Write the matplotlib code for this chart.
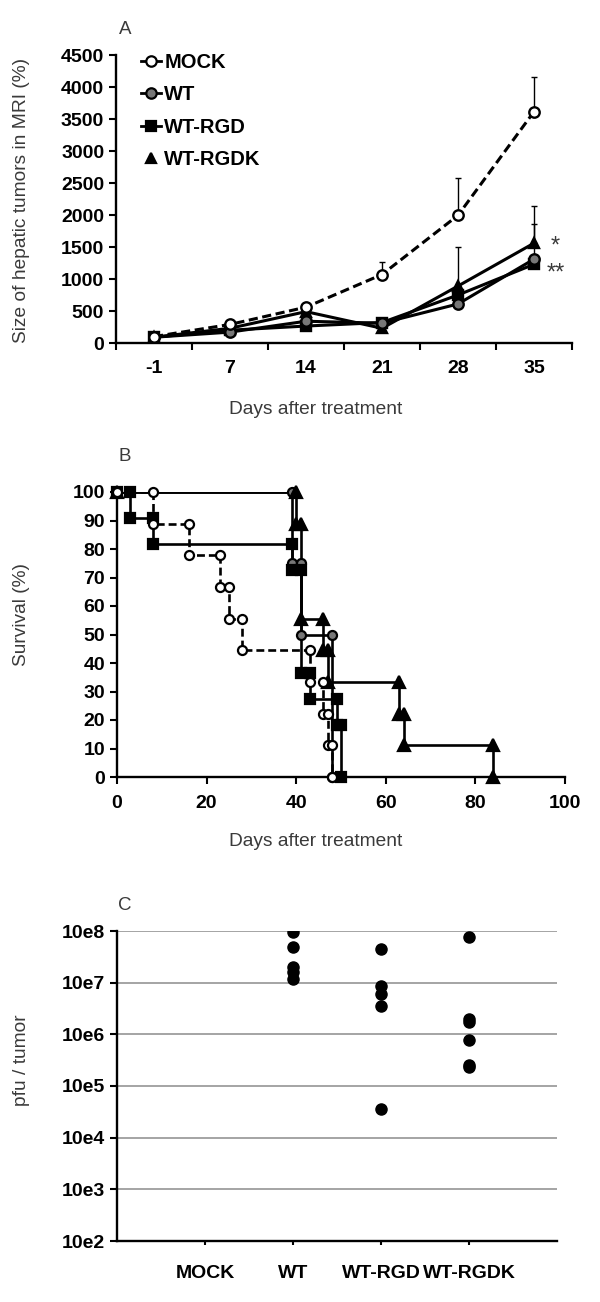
import numpy as np
import matplotlib
matplotlib.use("Agg")
import matplotlib.pyplot as plt
from matplotlib.lines import Line2D

plt.rcParams['font.family'] = ['Liberation Sans', 'DejaVu Sans']

# ---- panel A: tumor size (%) ----
days = ['-1', '7', '14', '21', '28', '35']
mock_size = [100, 290, 560, 1070, 1995, 3615]
mock_err = [0, 0, 40, 190, 590, 545]
wt_size = [90, 170, 340, 310, 610, 1310]
wt_err = [0, 0, 0, 0, 0, 545]
rgd_size = [90, 200, 265, 320, 750, 1230]
rgd_err = [0, 0, 0, 0, 0, 0]
rgdk_size = [90, 230, 490, 230, 890, 1560]
rgdk_err = [0, 0, 0, 0, 605, 575]

# ---- panel B: survival (Kaplan-Meier steps) ----
mock_t = [0, 8, 16, 23, 25, 28, 43, 46, 47, 48]
mock_s = [100, 88.9, 77.8, 66.7, 55.6, 44.4, 33.3, 22.2, 11.1, 0]
wt_t = [0, 39, 41, 48]
wt_s = [100, 75, 50, 0]
rgd_t = [0, 3, 8, 39, 41, 43, 49, 50]
rgd_s = [100, 90.9, 81.8, 72.7, 36.4, 27.3, 18.2, 0]
rgdk_t = [0, 40, 41, 46, 47, 63, 64, 84]
rgdk_s = [100, 88.9, 55.6, 44.4, 33.3, 22.2, 11.1, 0]

# ---- panel C: virus titres ----
groups = ['MOCK', 'WT', 'WT-RGD', 'WT-RGDK']
pfu_mock = []
pfu_wt = [9.4e7, 5.0e7, 2.05e7, 1.6e7, 1.2e7]
pfu_rgd = [4.4e7, 8.8e6, 6.0e6, 3.6e6, 3.6e4]
pfu_rgdk = [7.6e7, 2.0e6, 1.7e6, 7.9e5, 2.6e5, 2.3e5]

W, H = 600, 1302
fig = plt.figure(figsize=(W / 100, H / 100), dpi=100)


def rect(l, r, t, b):
    return [l / W, 1 - b / H, (r - l) / W, (b - t) / H]


def px(x, y):
    return x / W, 1 - y / H


TICK_FS = 14
tick_font = dict(fontsize=TICK_FS, fontweight='bold')
label_col = '#3a3a3a'
LABEL_FS = 13.8


def style(ax):
    for s in ['top', 'right']:
        ax.spines[s].set_visible(False)
    for s in ['left', 'bottom']:
        ax.spines[s].set_linewidth(1.7)
    ax.tick_params(width=1.5, length=5, direction='out')
    for lab in ax.get_xticklabels() + ax.get_yticklabels():
        lab.set_fontsize(TICK_FS)
        lab.set_fontweight('bold')


# panel A
axA = fig.add_axes(rect(116, 572, 55, 343))
x = np.arange(len(days))
series = [
    (mock_size, mock_err, 'o', 'white', '--', 'MOCK'),
    (wt_size, wt_err, 'o', '#777777', '-', 'WT'),
    (rgd_size, rgd_err, 's', 'black', '-', 'WT-RGD'),
    (rgdk_size, rgdk_err, '^', 'black', '-', 'WT-RGDK'),
]
for vals, err, m, fc, ls, name in reversed(series):
    axA.errorbar(x, vals, yerr=[np.zeros(len(err)), err], fmt='none',
                 ecolor='black', elinewidth=1, capsize=2, capthick=1)
    axA.plot(x, vals, linestyle=ls, color='black', lw=2.2, marker=m,
             markersize=7.5 if m != 's' else 7, markerfacecolor=fc,
             markeredgecolor='black', markeredgewidth=1.7,
             dashes=(3, 1.5) if ls == '--' else (None, None))
axA.set_xlim(-0.5, len(days) - 0.5)
axA.set_ylim(0, 4500)
axA.set_yticks(np.arange(0, 4501, 500))
axA.set_xticks(np.arange(-0.5, len(days), 1.0))
axA.set_xticklabels([])
axA.set_xticks(x, minor=True)
axA.set_xticklabels(days, minor=True, **tick_font)
axA.tick_params(axis='x', which='minor', length=0, pad=12)
style(axA)

handles = []
for vals, err, m, fc, ls, name in series:
    handles.append(Line2D([], [], color='black', lw=2 if name != 'WT-RGDK' else 0,
                          linestyle='-', marker=m, markersize=7.5,
                          markerfacecolor=fc, markeredgecolor='black',
                          markeredgewidth=1.6, label=name))
fig.legend(handles=handles, loc='upper left', bbox_to_anchor=px(141, 53),
           frameon=False, handlelength=1.0, handletextpad=0.15,
           labelspacing=0.66, borderpad=0, borderaxespad=0,
           prop=dict(size=14.5, weight='bold'), numpoints=1)

fig.text(*px(555, 247), '*', ha='center', va='center', fontsize=17, color=label_col)
fig.text(*px(556, 274), '**', ha='center', va='center', fontsize=17, color=label_col)

# panel B
axB = fig.add_axes(rect(117, 565, 492, 777))
curves = [
    (wt_t, wt_s, 'o', '#777777', '-', 6.5),
    (rgdk_t, rgdk_s, '^', 'black', '-', 8),
    (rgd_t, rgd_s, 's', 'black', '-', 6.5),
    (mock_t, mock_s, 'o', 'white', '--', 6.5),
]
for t, s, m, fc, ls, ms in curves:
    axB.step(t, s, where='post', color='black', lw=1.9, linestyle=ls,
             dashes=(3, 1.5) if ls == '--' else (None, None), zorder=2)
    # markers at top and bottom of every drop
    mx = [t[0]]
    my = [s[0]]
    for i in range(1, len(t)):
        mx += [t[i], t[i]]
        my += [s[i - 1], s[i]]
    axB.plot(mx, my, linestyle='none', marker=m, markersize=ms,
             markerfacecolor=fc, markeredgecolor='black', markeredgewidth=1.6,
             zorder=3, clip_on=False)
axB.set_xlim(0, 100)
axB.set_ylim(0, 100)
axB.set_xticks(np.arange(0, 101, 20))
axB.set_yticks(np.arange(0, 101, 10))
style(axB)
axB.tick_params(axis='x', pad=8)

# panel C
axC = fig.add_axes(rect(117, 557, 931, 1241))
for i, vals in enumerate([pfu_mock, pfu_wt, pfu_rgd, pfu_rgdk]):
    if vals:
        axC.plot([i + 1] * len(vals), vals, linestyle='none', marker='o',
                 markersize=8, color='black', zorder=3)
axC.set_yscale('log')
axC.set_ylim(1e2, 1e8)
axC.set_xlim(0, 5)
decades = [2, 3, 4, 5, 6, 7, 8]
axC.set_yticks([10.0 ** d for d in decades])
axC.set_yticklabels(['10e%d' % d for d in decades])
axC.minorticks_off()
axC.set_xticks(np.arange(1, len(groups) + 1))
axC.set_xticklabels(groups)
for d in decades[1:]:
    axC.axhline(10.0 ** d, color='#8c8c8c', lw=1.1, zorder=1)
style(axC)
axC.tick_params(axis='x', length=3, pad=14)
axC.tick_params(axis='y', length=5)

# panel letters and axis titles
for letter, yy in [('A', 30), ('B', 457), ('C', 905)]:
    fig.text(*px(125, yy), letter, ha='center', va='center', fontsize=13.5, color=label_col)
for txt, yy in [('Size of hepatic tumors in MRI (%)', 200), ('Survival (%)', 614), ('pfu / tumor', 1060)]:
    fig.text(*px(22, yy), txt, rotation=90, ha='center', va='center', fontsize=LABEL_FS, color=label_col)
for yy in [409, 842]:
    fig.text(*px(316, yy), 'Days after treatment', ha='center', va='center', fontsize=LABEL_FS, color=label_col)

fig.savefig('out.png', dpi=100)
